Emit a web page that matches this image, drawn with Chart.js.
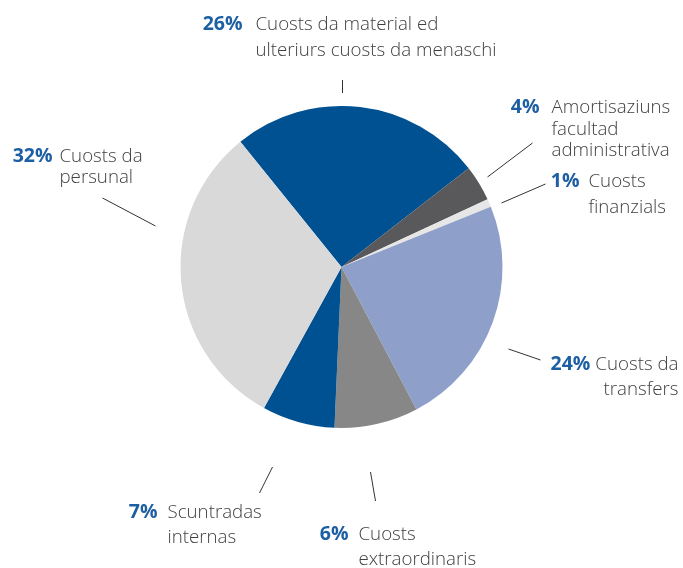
<!DOCTYPE html>
<html>
<head>
<meta charset="utf-8">
<script src="https://cdn.jsdelivr.net/npm/chart.js@4"></script>
<style>
  html, body { margin: 0; padding: 0; background: #ffffff; }
  #wrap { width: 683px; height: 568px; position: relative; }
</style>
</head>
<body>
<div id="wrap"><canvas id="chart"></canvas></div>
<script>
'use strict';

// Daten (Anteile gemäss Zeichnung, Beschriftung gemäss Original)
const categories = [
  'Cuosts da material ed ulteriurs cuosts da menaschi',
  'Amortisaziuns facultad administrativa',
  'Cuosts finanzials',
  'Cuosts da transfers',
  'Cuosts extraordinaris',
  'Scuntradas internas',
  'Cuosts da persunal',
];
const shares    = [25.3, 3.6, 0.8, 23.4, 8.4, 7.3, 31.2];
const pctLabels = ['26%', '4%', '1%', '24%', '6%', '7%', '32%'];
const textLines = [
  ['Cuosts da material ed', 'ulteriurs cuosts da menaschi'],
  ['Amortisaziuns', 'facultad', 'administrativa'],
  ['Cuosts', 'finanzials'],
  ['Cuosts da', 'transfers'],
  ['Cuosts', 'extraordinaris'],
  ['Scuntradas', 'internas'],
  ['Cuosts da', 'persunal'],
];

const COLORS = ['#005192', '#59595b', '#e6e6e6', '#8e9fca', '#878787', '#005192', '#d9d9d9'];

// Platzierung der Beschriftungen relativ zum Kreismittelpunkt
const LAYOUT = [
  { pct: -99, x: -86, y: -237, lh: 26,   line: [1, -187, 1, -174] },
  { pct: 198, x: 210, y: -154, lh: 21.5, line: [191, -124, 146, -90] },
  { pct: 238, x: 247, y: -80,  lh: 26,   line: [204, -83, 160, -64] },
  { right: 337,       y: 103,  lh: 25,   line: [167, 82, 199, 93] },
  { pct: 7,   x: 17,  y: 273,  lh: 25,   line: [29, 205, 34, 234] },
  { pct: -184, x: -174, y: 251, lh: 25,  line: [-69, 200, -82, 226] },
  { pct: -289, x: -282, y: -105, lh: 21, line: [-239, -69, -186, -41] },
];

const FONT = '"Open Sans", sans-serif';

const labelPlugin = {
  id: 'pieLabels',
  afterDraw(chart) {
    const arc = chart.getDatasetMeta(0).data[0];
    if (!arc) return;
    const cx = arc.x, cy = arc.y;
    const { ctx } = chart;
    ctx.save();

    // Hinweislinien
    ctx.strokeStyle = '#333333';
    ctx.lineWidth = 1;
    LAYOUT.forEach(l => {
      const [x1, y1, x2, y2] = l.line;
      ctx.beginPath();
      ctx.moveTo(cx + x1, cy + y1);
      ctx.lineTo(cx + x2, cy + y2);
      ctx.stroke();
    });

    ctx.textBaseline = 'alphabetic';
    const pctFont  = `bold 19.5px ${FONT}`;
    const textFont = `300 18.7px ${FONT}`;

    LAYOUT.forEach((l, i) => {
      const lines = textLines[i];
      if (l.right !== undefined) {
        // rechtsbündiger Block
        ctx.font = textFont;
        ctx.fillStyle = '#404040';
        ctx.textAlign = 'right';
        lines.forEach((t, k) => ctx.fillText(t, cx + l.right, cy + l.y + k * l.lh));
        const w = ctx.measureText(lines[0]).width;
        ctx.font = pctFont;
        ctx.fillStyle = '#1d5fa3';
        ctx.fillText(pctLabels[i], cx + l.right - w - 5, cy + l.y);
      } else {
        ctx.font = pctFont;
        ctx.fillStyle = '#1d5fa3';
        ctx.textAlign = 'right';
        ctx.fillText(pctLabels[i], cx + l.pct, cy + l.y);
        ctx.font = textFont;
        ctx.fillStyle = '#404040';
        ctx.textAlign = 'left';
        lines.forEach((t, k) => ctx.fillText(t, cx + l.x, cy + l.y + k * l.lh));
      }
    });
    ctx.restore();
  },
};

new Chart(document.getElementById('chart'), {
  type: 'pie',
  plugins: [labelPlugin],
  data: {
    labels: categories,
    datasets: [{
      data: shares,
      backgroundColor: COLORS,
      borderWidth: 0,
    }],
  },
  options: {
    responsive: true,
    maintainAspectRatio: false,
    animation: false,
    rotation: -38.9,
    layout: { padding: { top: 106, bottom: 140, left: 0, right: 0 } },
    plugins: {
      legend: { display: false },
      tooltip: { enabled: false },
    },
  },
});
</script>
</body>
</html>
